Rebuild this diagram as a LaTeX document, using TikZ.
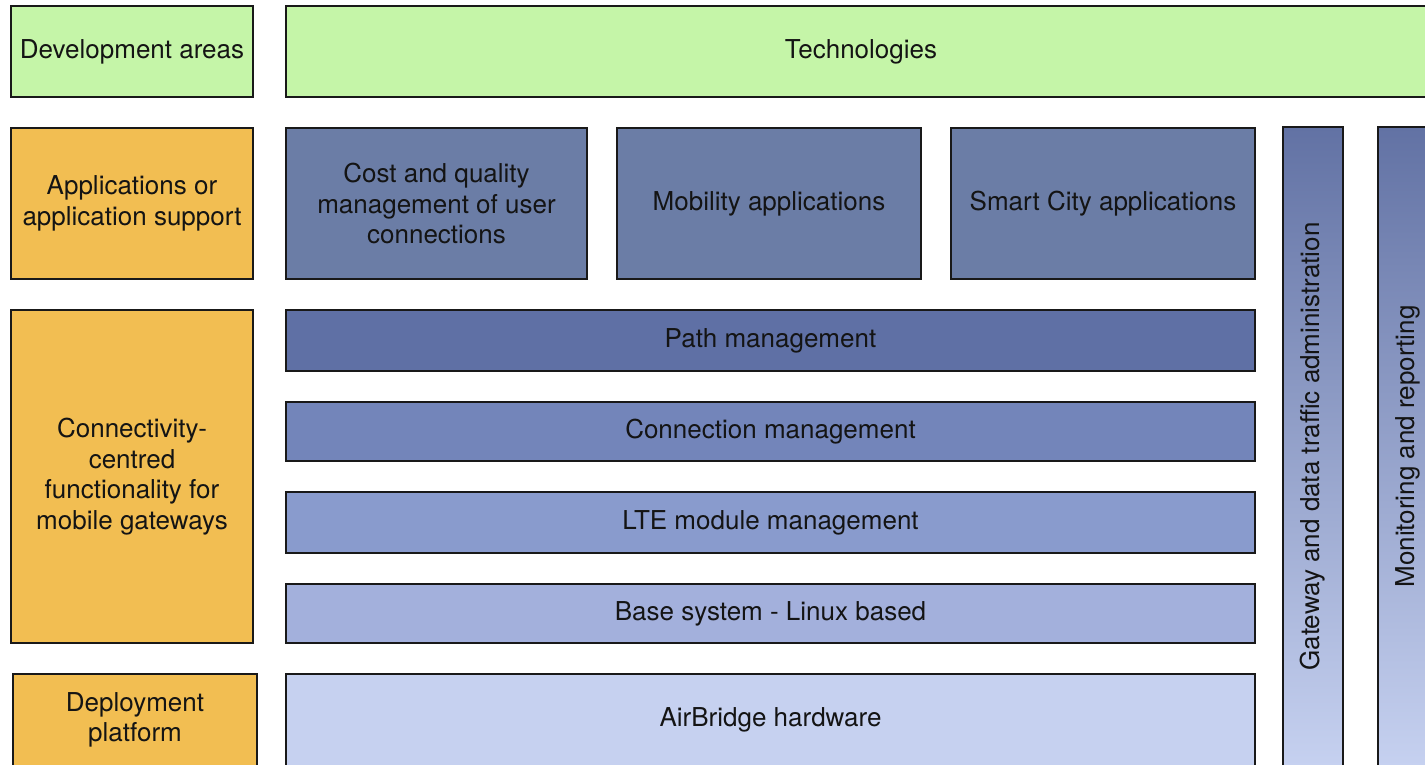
\documentclass[tikz,border=0pt]{standalone}
\usepackage{fontspec}
\setmainfont{TeX Gyre Heros}
\definecolor{areagreen}{HTML}{C5F5A8}
\definecolor{areaorange}{HTML}{F2BE52}
\definecolor{appblue}{HTML}{6B7DA6}
\definecolor{pathblue}{HTML}{5F70A5}
\definecolor{connblue}{HTML}{7385BA}
\definecolor{lteblue}{HTML}{899BCD}
\definecolor{baseblue}{HTML}{A3B0DC}
\definecolor{hwblue}{HTML}{C6D1F0}
\definecolor{bartop}{HTML}{6272A4}
\definecolor{barbottom}{HTML}{C6D1F0}
\tikzset{
  layerbox/.style={draw=black!90, line width=2pt, rectangle, anchor=north west,
    inner sep=0pt, outer sep=0pt, align=center,
    font=\fontsize{26}{30.5}\selectfont, text=black!92},
  greenbox/.style={layerbox, fill=areagreen},
  orangebox/.style={layerbox, fill=areaorange},
  vbar/.style={layerbox, top color=bartop, bottom color=barbottom}
}
\begin{document}
\begin{tikzpicture}[x=1pt, y=-1pt]
\useasboundingbox (0,0) rectangle (1425,764);
\clip (0,0) rectangle (1425,764);
% header row
\node[greenbox, minimum width=242, minimum height=91] (devareas) at (11,6) {Development areas};
\node[greenbox, minimum width=1150, minimum height=91] (tech) at (286,6) {Technologies};
% development areas column
\node[orangebox, minimum width=242, minimum height=151] (apps) at (11,128) {Applications or\\application support};
\node[orangebox, minimum width=242, minimum height=333] (conn) at (11,310) {Connectivity-\\centred\\functionality for\\mobile gateways};
\node[orangebox, minimum width=244, minimum height=92] (deploy) at (13,674) {Deployment\\platform};
% application layer
\node[layerbox, fill=appblue, minimum width=301, minimum height=151] (cost) at (286,128) {Cost and quality\\management of user\\connections};
\node[layerbox, fill=appblue, minimum width=304, minimum height=151] (mobility) at (617,128) {Mobility applications};
\node[layerbox, fill=appblue, minimum width=304, minimum height=151] (smartcity) at (951,128) {Smart City applications};
% connectivity layers
\node[layerbox, fill=pathblue, minimum width=969, minimum height=61] (path) at (286,310) {Path management};
\node[layerbox, fill=connblue, minimum width=969, minimum height=59] (connmgmt) at (286,402) {Connection management};
\node[layerbox, fill=lteblue, minimum width=969, minimum height=61] (lte) at (286,492) {LTE module management};
\node[layerbox, fill=baseblue, minimum width=969, minimum height=59] (base) at (286,584) {Base system - Linux based};
% platform
\node[layerbox, fill=hwblue, minimum width=969, minimum height=92] (hw) at (286,674) {AirBridge hardware};
% cross-cutting bars
\node[vbar, minimum width=60, minimum height=639] (gateway) at (1283,127) {\rotatebox{90}{Gateway and data traffic administration}};
\node[vbar, minimum width=60, minimum height=639] (monitor) at (1378,127) {\rotatebox{90}{Monitoring and reporting}};
\end{tikzpicture}
\end{document}
